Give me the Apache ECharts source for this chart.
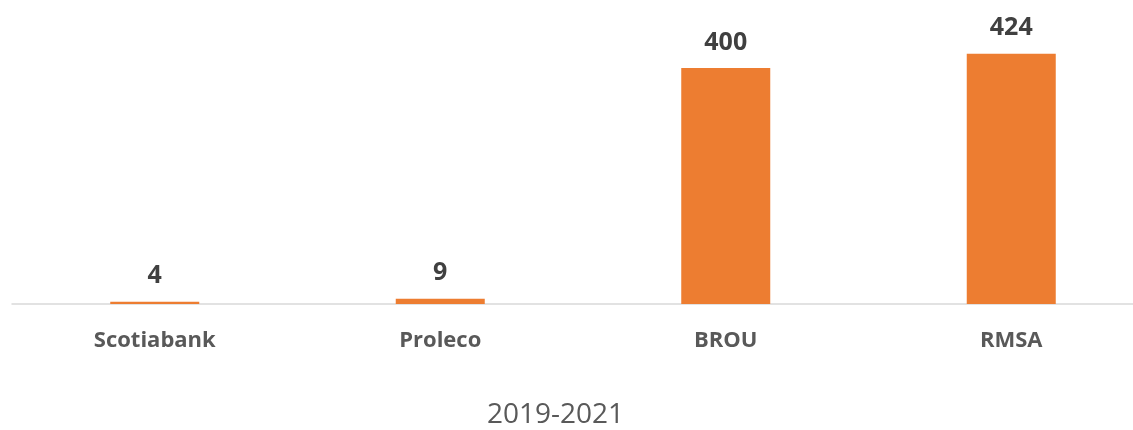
<!DOCTYPE html>
<html lang="es">
  <head>
    <meta charset="UTF-8" />
    <title>2019-2021</title>
    <script src="https://cdn.jsdelivr.net/npm/echarts@6.0.0/dist/echarts.min.js"></script>
    <style>
      html, body { margin: 0; padding: 0; background: #fff; }
      #main { width: 1133px; height: 430px; }
    </style>
  </head>
  <body>
    <div id="main"></div>
    <script type="text/javascript">
      // datos
      var categories = ["Scotiabank", "Proleco", "BROU", "RMSA"];
      var values = [4, 9, 400, 424];
      var periodLabel = "2019-2021";

      var myChart = echarts.init(document.getElementById("main"));

      var option = {
        animation: false,
        textStyle: { fontFamily: "Open Sans" },
        // el eje sigue más allá del borde derecho
        grid: {
          left: 12,
          width: 1142,
          top: 9,
          bottom: 126,
          outerBoundsMode: "none",
          containLabel: false,
        },
        xAxis: {
          type: "category",
          data: categories,
          axisTick: { show: false },
          axisLine: { lineStyle: { color: "#d9d9d9", width: 1.5 } },
          axisLabel: {
            margin: 26,
            fontSize: 22,
            fontWeight: "bold",
            color: "#595959",
          },
        },
        yAxis: {
          type: "value",
          min: 0,
          max: 500,
          show: false,
        },
        series: [
          {
            type: "bar",
            data: values,
            barWidth: 89,
            itemStyle: { color: "#ED7D31" },
            label: {
              show: true,
              position: "top",
              distance: 13,
              fontSize: 25,
              fontWeight: "bold",
              color: "#404040",
            },
          },
        ],
        graphic: [
          {
            type: "text",
            left: 487,
            top: 401,
            style: {
              text: periodLabel,
              fontFamily: "Open Sans",
              fontSize: 28,
              fill: "#595959",
            },
          },
        ],
      };

      myChart.setOption(option);
    </script>
  </body>
</html>
